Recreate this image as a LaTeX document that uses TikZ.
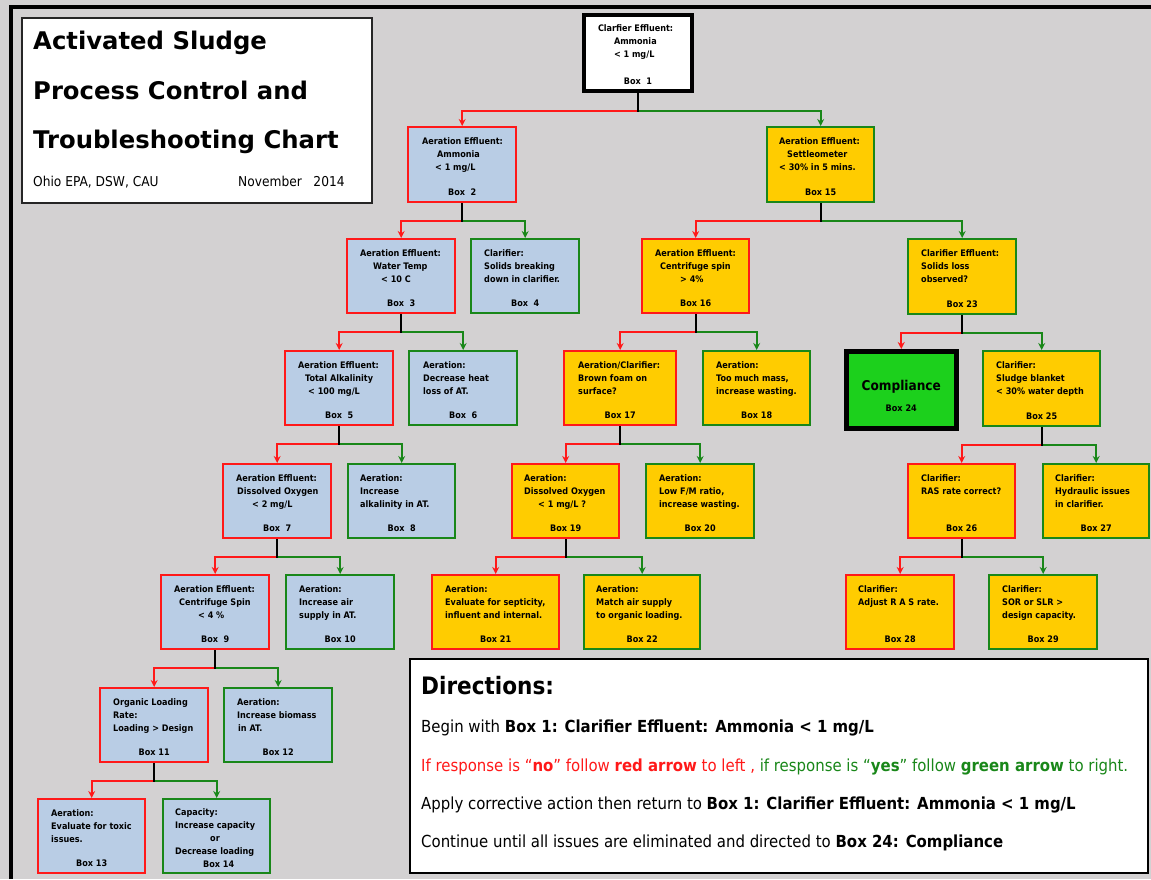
\documentclass[tikz,border=0pt]{standalone}
\usepackage{fontspec}
\setmainfont{DejaVu Sans Condensed}
\newfontfamily\widefont{DejaVu Sans}
\usetikzlibrary{arrows.meta}
\definecolor{bgray}{RGB}{211,209,210}
\definecolor{bfill}{RGB}{185,205,229}
\definecolor{yfill}{RGB}{255,204,0}
\definecolor{cfill}{RGB}{28,208,28}
\definecolor{nored}{RGB}{255,25,25}
\definecolor{yesgreen}{RGB}{25,135,25}
\newcommand\bxt[4]{\parbox[t][#2pt][t]{#1pt}{\fontsize{9}{13}\selectfont\bfseries\raggedright\vspace*{10pt}#3\par\vfill\centering #4\par\vspace*{6.5pt}}}
\newcommand\ind[1]{\hspace*{#1pt}}
\tikzset{
  box/.style={draw, line width=2.4pt, inner sep=0pt, anchor=north west},
  qb/.style={box, fill=bfill},
  qy/.style={box, fill=yfill},
  redb/.style={draw=nored},
  greenb/.style={draw=yesgreen},
  stem/.style={line width=2.4pt, black},
  noarr/.style={draw=nored, line width=2pt, -{Stealth[length=7pt,width=7pt]}},
  yesarr/.style={draw=yesgreen, line width=2pt, -{Stealth[length=7pt,width=7pt]}},
  dtext/.style={anchor=base west, inner sep=0pt, font=\fontsize{16.6}{18}\selectfont},
  ttext/.style={anchor=base west, inner sep=0pt, font={\widefont\bfseries\fontsize{24.3}{28}\selectfont}},
}
\begin{document}
\begin{tikzpicture}[x=1pt,y=-1pt]
\fill[bgray] (0,0) rectangle (1151,879);
\useasboundingbox (0,0) rectangle (1151,879);
% outer frame
\draw[line width=3.5pt] (11,879) -- (11,7) -- (1151,7);

% title box
\node[draw=black!85, line width=1.5pt, fill=white, minimum width=350pt, minimum height=185pt, anchor=north west] (title) at (21,17) {};
\node[ttext] (t1) at (33,49) {Activated Sludge};
\node[ttext] (t2) at (33,99) {Process Control and};
\node[ttext] (t3) at (33,148) {Troubleshooting Chart};
\node[anchor=base west, inner sep=0pt, font={\fontsize{13.6}{14}\selectfont}] (t4) at (33,186) {Ohio EPA, DSW, CAU};
\node[anchor=base west, inner sep=0pt, font={\fontsize{13.6}{14}\selectfont}] (t5) at (238,186) {November\ \ \ 2014};

% boxes
\node[box, fill=white, draw=black, line width=4pt] (b1) at (582,13) {\bxt{108}{76}{\ind{14}Clarfier Effluent:\\ \ind{30}Ammonia\\ \ind{30}< 1 mg/L}{Box\ \ 1}};
\node[qb, redb] (b2) at (407,126) {\bxt{108}{75}{\ind{14}Aeration Effluent:\\ \ind{29}Ammonia\\ \ind{27}< 1 mg/L}{Box\ \ 2}};
\node[qy, greenb] (b15) at (766,126) {\bxt{107}{75}{\ind{12}Aeration Effluent:\\ \ind{20}Settleometer\\ \ind{12}< 30\% in 5 mins.}{Box 15}};
\node[qb, redb] (b3) at (346,238) {\bxt{108}{74}{\ind{13}Aeration Effluent:\\ \ind{26}Water Temp\\ \ind{34}< 10 C}{Box\ \ 3}};
\node[qb, greenb] (b4) at (470,238) {\bxt{108}{74}{\ind{13}Clarifier:\\ \ind{13}Solids breaking\\ \ind{13}down in clarifier.}{Box\ \ 4}};
\node[qy, redb] (b16) at (641,238) {\bxt{107}{74}{\ind{13}Aeration Effluent:\\ \ind{18}Centrifuge spin\\ \ind{38}> 4\%}{Box 16}};
\node[qy, greenb] (b23) at (907,238) {\bxt{108}{75}{\ind{13}Clarifier Effluent:\\ \ind{13}Solids loss\\ \ind{13}observed?}{Box 23}};
\node[qb, redb] (b5) at (284,350) {\bxt{108}{74}{\ind{13}Aeration Effluent:\\ \ind{20}Total Alkalinity\\ \ind{23}< 100 mg/L}{Box\ \ 5}};
\node[qb, greenb] (b6) at (408,350) {\bxt{108}{74}{\ind{14}Aeration:\\ \ind{14}Decrease heat\\ \ind{14}loss of AT.}{Box\ \ 6}};
\node[qy, redb] (b17) at (563,350) {\bxt{112}{74}{\ind{14}Aeration/Clarifier:\\ \ind{14}Brown foam on\\ \ind{14}surface?}{Box 17}};
\node[qy, greenb] (b18) at (702,350) {\bxt{107}{74}{\ind{13}Aeration:\\ \ind{13}Too much mass,\\ \ind{13}increase wasting.}{Box 18}};
\node[box, fill=cfill, draw=black, line width=4.5pt] (b24) at (844,349) {\parbox[t][77pt][t]{110pt}{\centering\vspace*{29pt}{\bfseries\fontsize{13.5}{14}\selectfont Compliance}\par\vspace*{9pt}{\bfseries\fontsize{9}{13}\selectfont Box 24}}};
\node[qy, greenb] (b25) at (982,350) {\bxt{117}{75}{\ind{13}Clarifier:\\ \ind{13}Sludge blanket\\ \ind{13}< 30\% water depth}{Box 25}};
\node[qb, redb] (b7) at (222,463) {\bxt{108}{74}{\ind{13}Aeration Effluent:\\ \ind{14}Dissolved Oxygen\\ \ind{29}< 2 mg/L}{Box\ \ 7}};
\node[qb, greenb] (b8) at (347,463) {\bxt{107}{74}{\ind{12}Aeration:\\ \ind{12}Increase\\ \ind{12}alkalinity in AT.}{Box\ \ 8}};
\node[qy, redb] (b19) at (511,463) {\bxt{107}{74}{\ind{12}Aeration:\\ \ind{12}Dissolved Oxygen\\ \ind{26}< 1 mg/L ?}{Box 19}};
\node[qy, greenb] (b20) at (645,463) {\bxt{108}{74}{\ind{13}Aeration:\\ \ind{13}Low F/M ratio,\\ \ind{13}increase wasting.}{Box 20}};
\node[qy, redb] (b26) at (907,463) {\bxt{107}{74}{\ind{13}Clarifier:\\ \ind{13}RAS rate correct?}{Box 26}};
\node[qy, greenb] (b27) at (1042,463) {\bxt{106}{74}{\ind{12}Clarifier:\\ \ind{12}Hydraulic issues\\ \ind{12}in clarifier.}{Box 27}};
\node[qb, redb] (b9) at (160,574) {\bxt{108}{74}{\ind{13}Aeration Effluent:\\ \ind{18}Centrifuge Spin\\ \ind{37}< 4 \%}{Box\ \ 9}};
\node[qb, greenb] (b10) at (285,574) {\bxt{108}{74}{\ind{13}Aeration:\\ \ind{13}Increase air\\ \ind{13}supply in AT.}{Box 10}};
\node[qy, redb] (b21) at (431,574) {\bxt{127}{74}{\ind{13}Aeration:\\ \ind{13}Evaluate for septicity,\\ \ind{13}influent and internal.}{Box 21}};
\node[qy, greenb] (b22) at (583,574) {\bxt{116}{74}{\ind{12}Aeration:\\ \ind{12}Match air supply\\ \ind{12}to organic loading.}{Box 22}};
\node[qy, redb] (b28) at (845,574) {\bxt{108}{74}{\ind{12}Clarifier:\\ \ind{12}Adjust R A S rate.}{Box 28}};
\node[qy, greenb] (b29) at (988,574) {\bxt{108}{74}{\ind{13}Clarifier:\\ \ind{13}SOR or SLR >\\ \ind{13}design capacity.}{Box 29}};
\node[qb, redb] (b11) at (99,687) {\bxt{108}{74}{\ind{13}Organic Loading\\ \ind{13}Rate:\\ \ind{13}Loading > Design}{Box 11}};
\node[qb, greenb] (b12) at (223,687) {\bxt{108}{74}{\ind{13}Aeration:\\ \ind{13}Increase biomass\\ \ind{14}in AT.}{Box 12}};
\node[qb, redb] (b13) at (37,798) {\bxt{107}{74}{\ind{13}Aeration:\\ \ind{13}Evaluate for toxic\\ \ind{13}issues.}{Box 13}};
\node[qb, greenb] (b14) at (162,798) {\parbox[t][74pt][t]{107pt}{\fontsize{9}{13}\selectfont\bfseries\raggedright\vspace*{9.5pt}\ind{12}Capacity:\\ \ind{12}Increase capacity\\ \ind{47}or\\ \ind{12}Decrease loading\\ \ind{40}Box 14}};

% connectors
\foreach \p/\l/\r in {b1/b2/b15, b2/b3/b4, b15/b16/b23, b3/b5/b6, b16/b17/b18, b23/b24/b25, b5/b7/b8, b17/b19/b20, b25/b26/b27, b7/b9/b10, b19/b21/b22, b26/b28/b29, b9/b11/b12, b11/b13/b14} {
  \coordinate (j\p) at ([yshift=-18pt]\p.south);
  \draw[noarr] (j\p) -| (\l.north);
  \draw[yesarr] (j\p) -| (\r.north);
  \draw[stem] (\p.south) -- ([yshift=-1pt]j\p);
}

% directions box
\node[draw=black, line width=2pt, fill=white, minimum width=738pt, minimum height=214pt, anchor=north west] (dir) at (409,658) {};
\node[anchor=base west, inner sep=0pt, font={\bfseries\fontsize{24}{26}\selectfont}] (dh) at (421,694) {Directions:};
\node[dtext] (d1) at (421,732) {Begin with \textbf{Box 1: Clarifier Effluent: Ammonia < 1 mg/L}};
\node[dtext] (d2) at (421,771) {\textcolor{nored}{If response is “\textbf{no}” follow \textbf{red arrow} to left ,} \textcolor{yesgreen}{if response is “\textbf{yes}” follow \textbf{green arrow} to right.}};
\node[dtext] (d3) at (421,809) {Apply corrective action then return to \textbf{Box 1: Clarifier Effluent: Ammonia < 1 mg/L}};
\node[dtext] (d4) at (421,847) {Continue until all issues are eliminated and directed to \textbf{Box 24: Compliance}};
\end{tikzpicture}
\end{document}
